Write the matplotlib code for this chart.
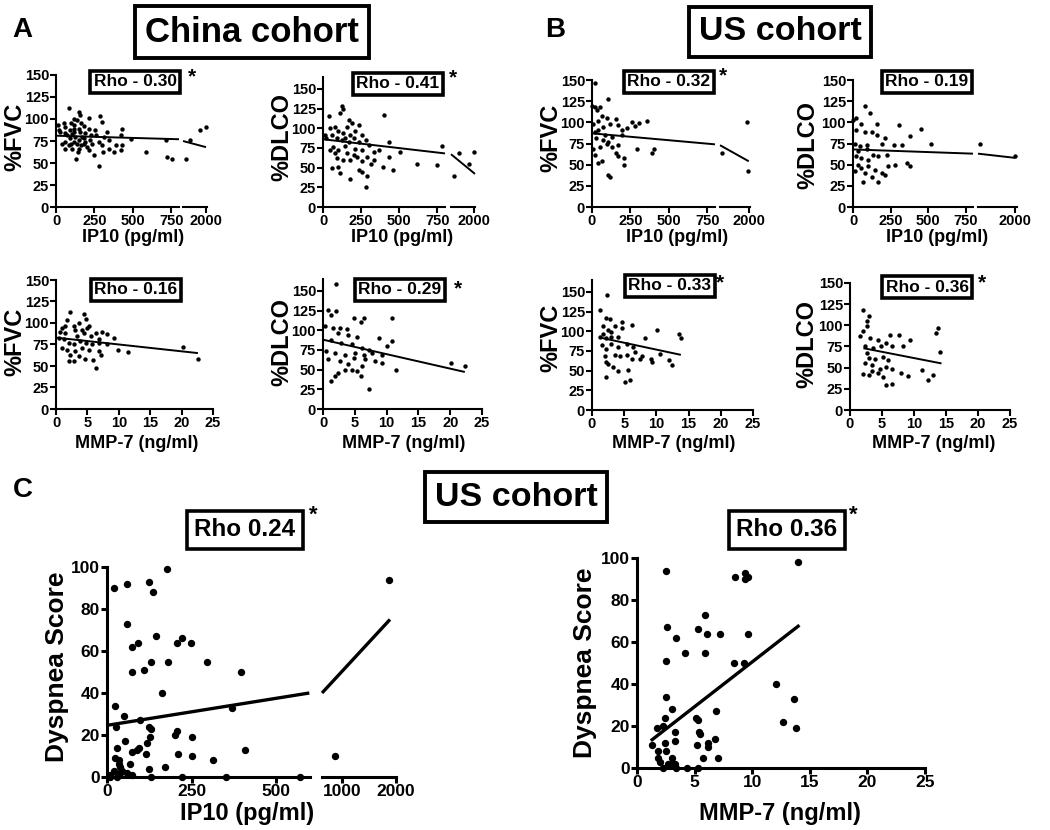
import matplotlib
matplotlib.use("Agg")
import matplotlib.pyplot as plt
import numpy as np

W, H = 1050, 830
plt.rcParams["font.family"] = ["Liberation Sans", "DejaVu Sans"]
plt.rcParams["font.weight"] = "bold"

# ---- data: (x, y) per point ----
a1_pts = [(13, 93), (17, 87), (28, 85), (39, 72), (50, 95), (61, 91), (61, 74), (61, 66),
          (61, 84), (72, 82), (83, 112), (83, 70), (93, 87), (93, 78), (95, 72), (100, 95),
          (104, 66), (104, 83), (115, 93), (115, 74), (115, 89), (120, 85), (120, 100),
          (126, 80), (130, 54), (137, 99), (137, 72), (140, 62), (148, 108), (148, 66),
          (148, 76), (148, 89), (155, 104), (159, 85), (160, 95), (165, 70), (170, 80),
          (180, 92), (180, 72), (180, 78), (190, 74), (191, 84), (202, 68), (213, 101),
          (213, 89), (213, 65), (224, 76), (230, 82), (235, 72), (246, 59), (256, 87),
          (257, 82), (278, 47), (278, 74), (289, 103), (300, 97), (300, 70), (304, 63),
          (313, 80), (333, 85), (343, 66), (343, 76), (376, 63), (387, 70), (422, 65),
          (422, 82), (430, 70), (430, 89), (485, 77), (583, 62), (713, 76), (724, 57),
          (757, 54), (1000, 54), (1200, 76), (1700, 87), (1985, 91)]
a2_pts = [(38, 116), (123, 128), (134, 124), (112, 119), (168, 111), (235, 104), (190, 107),
          (157, 102), (78, 102), (45, 100), (11, 92), (56, 92), (101, 96), (134, 94), (213, 96),
          (257, 92), (89, 87), (123, 85), (168, 83), (201, 87), (235, 83), (280, 85), (67, 76),
          (101, 72), (145, 78), (213, 73), (257, 72), (302, 79), (336, 70), (369, 72),
          (403, 117), (436, 83), (436, 64), (503, 70), (615, 55), (749, 53), (783, 78),
          (459, 47), (391, 51), (313, 55), (336, 60), (291, 64), (257, 58), (224, 64),
          (179, 60), (134, 60), (89, 62), (56, 49), (112, 43), (179, 35), (235, 47), (257, 45),
          (291, 39), (284, 26), (101, 51), (78, 68), (157, 68), (201, 66), (45, 72), (22, 87),
          (145, 88), (179, 92), (1000, 39), (1250, 69), (1765, 55), (2000, 70)]
a3_pts = [(2.3, 113), (4.4, 110), (4.8, 105), (1.8, 104), (3.6, 100), (2.8, 96), (1.0, 94),
          (1.5, 96), (3.1, 92), (4.2, 92), (5.0, 94), (4.4, 88), (6.3, 88), (7.4, 90), (8.2, 87),
          (9.2, 83), (6.8, 81), (5.5, 85), (0.4, 83), (1.2, 81), (2.0, 77), (2.8, 75), (3.9, 79),
          (4.7, 77), (5.8, 75), (1.0, 71), (1.8, 69), (3.1, 67), (2.3, 63), (3.6, 62), (2.0, 56),
          (2.8, 56), (4.6, 58), (5.9, 57), (6.3, 48), (6.8, 67), (7.1, 63), (9.8, 69),
          (11.4, 66), (20.2, 72), (22.6, 58), (8.2, 75), (5.3, 69), (4.2, 71), (1.5, 88),
          (0.7, 90), (3.4, 85), (5.3, 96), (6.8, 77)]
a4_pts = [(2.1, 159), (0.8, 126), (2.1, 124), (1.3, 119), (4.8, 115), (6.4, 115), (5.9, 111),
          (10.9, 116), (0.3, 105), (1.6, 103), (2.7, 103), (3.7, 101), (2.4, 96), (4.0, 94),
          (5.3, 92), (8.8, 90), (10.1, 80), (10.9, 86), (1.3, 88), (2.9, 84), (4.5, 82),
          (6.1, 77), (7.2, 75), (0.5, 73), (1.9, 71), (3.5, 69), (5.1, 71), (6.4, 69), (7.7, 71),
          (9.3, 69), (0.8, 63), (2.7, 61), (4.8, 65), (6.6, 63), (8.2, 61), (9.3, 59),
          (11.4, 50), (4.5, 50), (5.3, 48), (3.5, 50), (2.4, 46), (1.9, 42), (1.3, 36),
          (5.9, 42), (7.2, 25), (20.2, 59), (22.3, 54), (6.1, 55), (4.0, 57)]
b1_pts = [(22, 146), (0, 119), (18, 118), (35, 115), (51, 118), (106, 127), (62, 107),
          (95, 105), (40, 101), (7, 98), (73, 95), (117, 98), (154, 104), (172, 97), (260, 100),
          (278, 96), (304, 99), (359, 101), (194, 91), (227, 93), (40, 91), (18, 89), (84, 85),
          (128, 83), (194, 85), (29, 81), (73, 79), (106, 77), (51, 71), (95, 75), (128, 71),
          (172, 73), (7, 69), (18, 62), (154, 64), (172, 60), (293, 68), (403, 69), (392, 64),
          (205, 58), (205, 50), (40, 52), (62, 54), (101, 38), (117, 36),
          (917, 64), (1917, 100), (1950, 42)]
b2_pts = [(79, 119), (113, 111), (23, 105), (0, 103), (56, 98), (158, 98), (304, 97),
          (450, 92), (23, 91), (79, 88), (124, 89), (158, 85), (214, 82), (383, 84), (518, 75),
          (11, 75), (45, 72), (90, 73), (191, 75), (270, 73), (326, 73), (34, 66), (90, 68),
          (135, 62), (56, 58), (101, 56), (169, 60), (11, 42), (56, 46), (101, 48), (146, 44),
          (191, 40), (236, 48), (281, 50), (360, 52), (383, 49), (214, 38), (124, 36), (68, 30),
          (169, 29), (23, 60), (34, 50), (79, 40), (225, 62), (912, 75), (2000, 60)]
b3_pts = [(1.2, 127), (2.4, 146), (2.2, 117), (2.8, 115), (1.7, 106), (2.5, 101), (3.6, 106),
          (4.6, 104), (1.7, 97), (3.0, 99), (4.1, 93), (2.2, 91), (1.2, 93), (6.2, 108),
          (4.6, 112), (10.1, 102), (13.5, 97), (13.8, 92), (8.3, 92), (1.5, 82), (3.0, 84),
          (4.1, 80), (5.4, 84), (6.4, 80), (6.7, 74), (2.2, 78), (2.0, 68), (3.6, 70), (4.3, 68),
          (5.4, 70), (6.2, 65), (7.7, 68), (9.1, 65), (9.3, 61), (10.6, 71), (11.9, 63),
          (12.4, 57), (2.2, 61), (2.5, 59), (3.3, 55), (4.1, 49), (5.6, 51), (2.2, 42),
          (5.1, 36), (5.9, 38), (7.5, 65), (3.0, 93)]
b4_pts = [(2.1, 118), (2.9, 111), (2.6, 105), (2.6, 99), (2.1, 93), (1.6, 87), (3.1, 85),
          (4.4, 83), (5.7, 79), (6.3, 89), (7.6, 89), (9.4, 83), (13.8, 97), (13.5, 91),
          (14.1, 69), (2.3, 75), (3.6, 73), (4.9, 75), (6.5, 75), (8.3, 75), (2.6, 67),
          (2.9, 61), (3.9, 60), (5.2, 63), (6.0, 59), (2.3, 56), (3.4, 53), (4.7, 49), (5.7, 51),
          (6.5, 49), (2.9, 41), (4.4, 44), (5.2, 39), (8.0, 44), (9.1, 40), (11.2, 47),
          (12.2, 36), (13.0, 41), (5.7, 30), (6.5, 31), (2.1, 42), (3.4, 46)]
c1_pts = [(20, 90), (59, 92), (123, 93), (135, 88), (176, 99), (59, 73), (74, 62), (93, 64),
          (145, 67), (206, 64), (221, 66), (248, 64), (74, 50), (110, 51), (129, 55), (181, 55),
          (296, 55), (397, 50), (164, 40), (23, 34), (368, 33), (51, 29), (98, 27), (123, 24),
          (129, 23), (27, 24), (206, 22), (201, 20), (250, 19), (127, 19), (29, 14), (54, 17),
          (88, 13), (74, 12), (96, 14), (118, 16), (116, 11), (211, 11), (250, 10), (407, 13),
          (314, 8), (171, 5), (125, 4), (25, 9), (34, 6), (39, 5), (20, 3), (39, 2), (59, 2),
          (74, 1), (10, 1), (29, 0), (69, 6), (129, 0), (221, 0), (353, 0), (569, 0), (10, 0),
          (45, 3), (35, 8), (862, 10), (1870, 94)]
c2_pts = [(2.5, 94), (14.0, 98), (8.5, 91), (9.4, 93), (9.4, 90), (9.6, 91), (5.9, 73),
          (2.6, 67), (3.4, 62), (5.3, 66), (6.1, 64), (7.2, 64), (9.6, 64), (4.2, 55), (5.9, 55),
          (2.5, 51), (8.4, 50), (9.3, 50), (12.1, 40), (13.6, 33), (12.7, 22), (13.8, 19),
          (2.5, 34), (3.0, 28), (2.4, 24), (5.1, 24), (5.3, 23), (1.7, 19), (2.3, 20), (3.3, 17),
          (3.3, 13), (5.4, 17), (5.5, 16), (6.9, 27), (6.8, 14), (1.3, 11), (2.4, 12), (5.2, 11),
          (6.2, 12), (6.2, 10), (1.8, 8), (2.5, 8), (1.8, 5), (2.0, 3), (5.7, 5), (7.0, 5),
          (3.0, 5), (3.3, 2), (2.7, 2), (2.3, 0), (4.3, 0), (5.3, 0), (3.4, 0), (3.0, 2)]

# regression lines (segment 1, segment 2)
a1_fit = [[(0, 81), (800, 77)], [(850, 75), (2000, 68)]]
a2_fit = [[(0, 86), (800, 68)], [(850, 67), (2050, 42)]]
a3_fit = [[(0, 83), (22.6, 65)]]
a4_fit = [[(0, 88), (22.3, 47)]]
b1_fit = [[(0, 87), (800, 74)], [(850, 73), (2000, 54)]]
b2_fit = [[(0, 68), (800, 63)], [(850, 63), (2000, 58)]]
b3_fit = [[(1.2, 92), (13.8, 70)]]
b4_fit = [[(2.1, 73), (14.3, 55)]]
c1_fit = [[(0, 24.6), (598, 40)], [(620, 40), (1888, 75)]]
c2_fit = [[(1.2, 13), (14.1, 68)]]

rho_labels = ["Rho - 0.30", "Rho - 0.41", "Rho - 0.16", "Rho - 0.29",
              "Rho - 0.32", "Rho - 0.19", "Rho - 0.33", "Rho - 0.36",
              "Rho 0.24", "Rho 0.36"]
significant = [True, True, False, True, True, False, True, True, True, True]

fig = plt.figure(figsize=(W / 100, H / 100), dpi=100)


def px_axes(x0, x1, y_top, y_bot):
    return fig.add_axes([x0 / W, 1 - y_bot / H, (x1 - x0) / W, (y_bot - y_top) / H])


def ftext(x, y, s, **kw):
    return fig.text(x / W, 1 - y / H, s, ha="center", va="center", fontweight="bold", **kw)


def draw(segs, y_top, y_bot, ylim, yticks, pts, fits, tick_fs=10.5, ms=10, lw=1.5, fit_lw=1.4):
    """segs: list of (x0_px, x1_px, xlim, xticks)"""
    pts = np.array(pts, dtype=float)
    for i, (x0, x1, xlim, xticks) in enumerate(segs):
        ax = px_axes(x0, x1, y_top, y_bot)
        ax.set_xlim(*xlim)
        ax.set_ylim(*ylim)
        for s in ("top", "right"):
            ax.spines[s].set_visible(False)
        ax.spines["bottom"].set_linewidth(lw)
        ax.spines["left"].set_linewidth(lw)
        ax.set_xticks(xticks)
        ax.tick_params(direction="out", length=4, width=lw, labelsize=tick_fs, pad=1)
        if i == 0:
            ax.set_yticks(yticks)
        else:
            ax.spines["left"].set_visible(False)
            ax.set_yticks([])
        m = (pts[:, 0] >= xlim[0]) & (pts[:, 0] <= xlim[1])
        ax.scatter(pts[m, 0], pts[m, 1], s=ms, c="black", lw=0, clip_on=False, zorder=3)
        fx, fy = zip(*fits[i])
        ax.plot(fx, fy, color="black", lw=fit_lw, solid_capstyle="butt", clip_on=False)
    return ax


def rho(x, y, i, fs=12.5, star=None, star_fs=15, lw=2.6, pad=0.22):
    ftext(x, y, rho_labels[i], fontsize=fs,
          bbox=dict(boxstyle=f"square,pad={pad}", fc="white", ec="black", lw=lw))
    if significant[i] and star:
        ftext(star[0], star[1], "*", fontsize=star_fs)


top_ticks = [0, 250, 500, 750]
mmp_ticks = [0, 5, 10, 15, 20, 25]
y150 = [0, 25, 50, 75, 100, 125, 150]

# Panel A
draw([(56, 179, (0, 800), top_ticks), (183, 207, (850, 2050), [2000])],
     75, 207, (0, 150), y150, a1_pts, a1_fit)
draw([(323, 445, (0, 800), top_ticks), (451, 475, (850, 2050), [2000])],
     77, 207, (0, 165), y150, a2_pts, a2_fit)
draw([(56, 213, (0, 25), mmp_ticks)], 280, 409, (0, 150), y150, a3_pts, a3_fit)
draw([(323, 482, (0, 25), mmp_ticks)], 279, 409, (0, 165), y150, a4_pts, a4_fit)
# Panel B
draw([(592, 715, (0, 800), top_ticks), (720, 750, (850, 2050), [2000])],
     80, 207, (0, 150), y150, b1_pts, b1_fit)
draw([(853, 973, (0, 800), top_ticks), (978, 1017, (850, 2050), [2000])],
     80, 207, (0, 150), y150, b2_pts, b2_fit)
draw([(592, 753, (0, 25), mmp_ticks)], 280, 410, (0, 165), y150, b3_pts, b3_fit)
draw([(850, 1010, (0, 25), mmp_ticks)], 283, 410, (0, 150), y150, b4_pts, b4_fit)
# Panel C
draw([(107, 310, (0, 600), [0, 250, 500]), (322, 396, (620, 2000), [1000, 2000])],
     567, 777, (0, 100), [0, 20, 40, 60, 80, 100], c1_pts, c1_fit,
     tick_fs=12.5, ms=28, lw=2.2, fit_lw=2.4)
draw([(637, 925, (0, 25), mmp_ticks)], 558, 768, (0, 100), [0, 20, 40, 60, 80, 100],
     c2_pts, c2_fit, tick_fs=12.5, ms=28, lw=2.2, fit_lw=2.4)

# axis labels
for x, y, s in [(15, 137, "%FVC"), (282, 137, "%DLCO"), (15, 342, "%FVC"), (282, 342, "%DLCO"),
                (551, 138, "%FVC"), (808, 145, "%DLCO"), (551, 338, "%FVC"), (807, 344, "%DLCO")]:
    ftext(x, y, s, fontsize=17, rotation=90)
for x, y, s in [(133, 238, "IP10 (pg/ml)"), (402, 238, "IP10 (pg/ml)"),
                (677, 238, "IP10 (pg/ml)"), (937, 238, "IP10 (pg/ml)"),
                (137, 443, "MMP-7 (ng/ml)"), (404, 443, "MMP-7 (ng/ml)"),
                (674, 443, "MMP-7 (ng/ml)"), (934, 443, "MMP-7 (ng/ml)")]:
    ftext(x, y, s, fontsize=13)
ftext(57, 667, "Dyspnea Score", fontsize=19, rotation=90)
ftext(585, 663, "Dyspnea Score", fontsize=19, rotation=90)
ftext(247, 813, "IP10 (pg/ml)", fontsize=17)
ftext(780, 813, "MMP-7 (ng/ml)", fontsize=17)

# rho boxes
rho(135, 82, 0, star=(192, 77))
rho(398, 84, 1, star=(453, 78))
rho(136, 290, 2)
rho(400, 290, 3, star=(458, 289))
rho(669, 82, 4, star=(723, 76))
rho(927, 82, 5)
rho(670, 286, 6, star=(720, 283))
rho(927, 287, 7, star=(982, 283))
rho(245, 530, 8, fs=17.5, star=(313, 515), star_fs=16, lw=2.6, pad=0.3)
rho(787, 530, 9, fs=17.5, star=(853, 515), star_fs=16, lw=2.6, pad=0.3)

# titles and panel letters
box = dict(boxstyle="square,pad=0.28", fc="white", ec="black", lw=2.8)
ftext(252, 32, "China cohort", fontsize=25, bbox=box)
ftext(780, 32, "US cohort", fontsize=24.5, bbox=box)
ftext(516, 497, "US cohort", fontsize=24.5, bbox=box)
ftext(22, 30, "A", fontsize=20)
ftext(555, 30, "B", fontsize=20)
ftext(23, 490, "C", fontsize=20)

fig.savefig("out.png", dpi=100)
